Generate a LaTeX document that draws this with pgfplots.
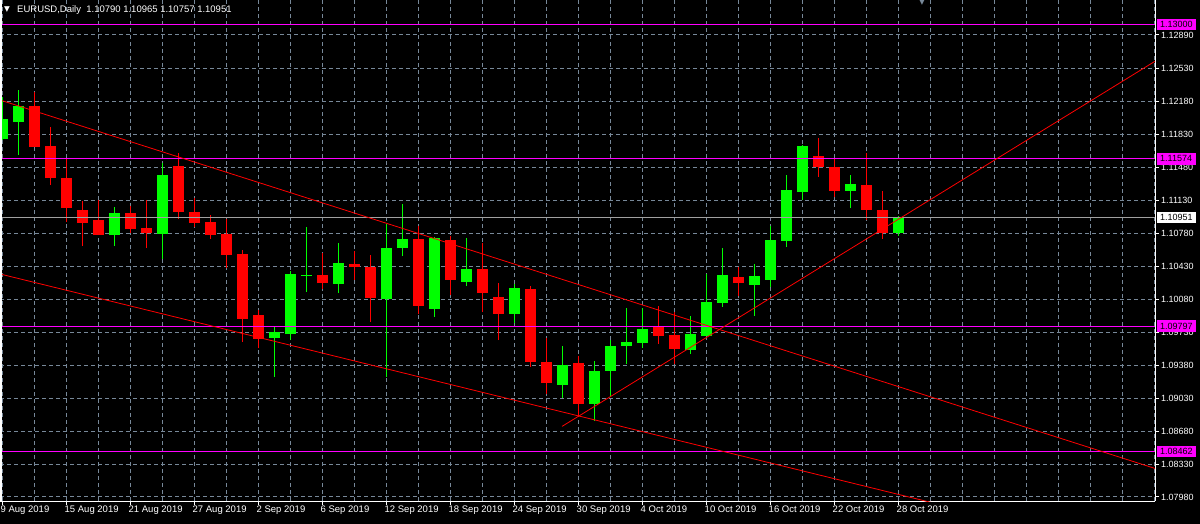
\documentclass[border=0pt]{standalone}
\usepackage{pgfplots}
\pgfplotsset{compat=1.18}
\usepackage{pgfplotstable}
\usepackage{fontspec}
\setmainfont{Liberation Sans}
\newfontfamily\dejavu{DejaVu Sans}
\definecolor{gridc}{RGB}{119,136,153}
\definecolor{bull}{RGB}{0,255,0}
\definecolor{bear}{RGB}{255,0,0}
\definecolor{mag}{RGB}{255,0,255}
\definecolor{bidc}{RGB}{160,160,160}

\pgfplotstableread{
i o h l c
0 1.11785 1.12231 1.11770 1.11997
1 1.11965 1.12305 1.11615 1.12135
7 1.10764 1.11062 1.10647 1.10998
10 1.10775 1.11530 1.10509 1.11402
17 1.09670 1.09787 1.09255 1.09734
18 1.09712 1.10382 1.09648 1.10350
19 1.10329 1.10849 1.10159 1.10339
21 1.10244 1.10679 1.10148 1.10467
24 1.10084 1.10881 1.09255 1.10626
25 1.10626 1.11094 1.10541 1.10722
27 1.09978 1.10743 1.09893 1.10733
29 1.10265 1.10733 1.10222 1.10403
32 1.09925 1.10244 1.09829 1.10201
35 1.09170 1.09585 1.09032 1.09383
37 1.08968 1.09425 1.08788 1.09319
38 1.09319 1.09648 1.09043 1.09585
39 1.09585 1.09989 1.09393 1.09627
40 1.09617 1.09989 1.09563 1.09765
43 1.09542 1.09904 1.09500 1.09712
44 1.09691 1.10350 1.09691 1.10052
45 1.10042 1.10626 1.09999 1.10339
47 1.10233 1.10456 1.09904 1.10329
48 1.10286 1.10860 1.10212 1.10711
49 1.10701 1.11402 1.10637 1.11243
50 1.11221 1.11721 1.11136 1.11710
53 1.11232 1.11402 1.11051 1.11306
56 1.10790 1.10965 1.10757 1.10951
}\bulltab

\pgfplotstableread{
i o h l c
2 1.12135 1.12284 1.11700 1.11700
3 1.11710 1.11912 1.11296 1.11370
4 1.11370 1.11572 1.10903 1.11051
5 1.11030 1.11126 1.10647 1.10892
6 1.10924 1.11136 1.10764 1.10764
8 1.10998 1.11073 1.10786 1.10828
9 1.10839 1.11136 1.10626 1.10786
11 1.11498 1.11636 1.10934 1.11009
12 1.11009 1.11158 1.10849 1.10892
13 1.10903 1.10977 1.10722 1.10764
14 1.10775 1.10934 1.10414 1.10552
15 1.10562 1.10605 1.09627 1.09872
16 1.09914 1.09967 1.09563 1.09659
20 1.10339 1.10573 1.10191 1.10254
22 1.10456 1.10594 1.10286 1.10424
23 1.10424 1.10552 1.09840 1.10095
26 1.10722 1.10860 1.09925 1.10010
28 1.10711 1.10754 1.10127 1.10286
30 1.10403 1.10679 1.09946 1.10148
31 1.10105 1.10254 1.09648 1.09925
33 1.10191 1.10222 1.09362 1.09415
34 1.09415 1.09670 1.09075 1.09191
36 1.09404 1.09478 1.08841 1.08968
41 1.09787 1.10010 1.09606 1.09691
42 1.09702 1.09946 1.09393 1.09553
46 1.10318 1.10424 1.10116 1.10254
51 1.11604 1.11795 1.11381 1.11487
52 1.11487 1.11572 1.11168 1.11232
54 1.11296 1.11636 1.10924 1.11030
55 1.11030 1.11232 1.10722 1.10786
}\beartab

\begin{document}
\begin{tikzpicture}[x=1pt,y=1pt]
\begin{axis}[
  at={(0pt,22pt)}, anchor=south west,
  width=1155pt, height=501pt, scale only axis,
  xmin=-0.15625, xmax=72.03, ymin=1.07937, ymax=1.13262,
  clip mode=individual,
  set layers,
  axis x line*=bottom, axis y line*=right,
  axis line style={white, line width=1pt, -},
  tick align=outside,
  major tick length=4pt, minor tick length=0pt,
  tick style={white, line width=1pt},
  xtick={0,4,...,56},
  xticklabels={9 Aug 2019,15 Aug 2019,21 Aug 2019,27 Aug 2019,2 Sep 2019,6 Sep 2019,12 Sep 2019,18 Sep 2019,24 Sep 2019,30 Sep 2019,4 Oct 2019,10 Oct 2019,16 Oct 2019,22 Oct 2019,28 Oct 2019},
  minor xtick={2,6,...,54,58,60,...,72},
  ytick={1.07980,1.08330,1.08680,1.09030,1.09380,1.09730,1.10080,1.10430,1.10780,1.11130,1.11480,1.11830,1.12180,1.12530,1.12890},
  xmajorgrids, xminorgrids, ymajorgrids,
  grid style={gridc, line width=1pt, dash pattern=on 4pt off 3pt},
  minor grid style={gridc, line width=1pt, dash pattern=on 4pt off 3pt},
  ticklabel style={white, font=\fontsize{9}{10}\selectfont},
  xticklabel style={anchor=north west, inner sep=0pt, xshift=-2pt, yshift=-1pt, font=\fontsize{9.5}{10}\selectfont},
  yticklabel style={anchor=west, inner sep=0pt, xshift=2pt},
  /pgf/number format/.cd, fixed, fixed zerofill, precision=5, assume math mode=true,
]
\begin{pgfonlayer}{axis background}
\fill[black] (rel axis cs:-0.01,-0.05) rectangle (rel axis cs:1.05,1.01);
\end{pgfonlayer}
% wicks
\addplot[draw=none, mark=none, error bars/.cd, y dir=plus, y explicit, error mark=none, error bar style={draw=bull, line width=1pt}]
  table[x=i, y=l, y error expr=\thisrow{h}-\thisrow{l}] {\bulltab};
\addplot[draw=none, mark=none, error bars/.cd, y dir=plus, y explicit, error mark=none, error bar style={draw=bear, line width=1pt}]
  table[x=i, y=l, y error expr=\thisrow{h}-\thisrow{l}] {\beartab};
% bodies
\addplot[draw=none, mark=none, error bars/.cd, y dir=plus, y explicit, error mark=none, error bar style={draw=bull, line width=11pt}]
  table[x=i, y=o, y error expr=\thisrow{c}-\thisrow{o}] {\bulltab};
\addplot[draw=none, mark=none, error bars/.cd, y dir=plus, y explicit, error mark=none, error bar style={draw=bear, line width=11pt}]
  table[x=i, y=c, y error expr=\thisrow{o}-\thisrow{c}] {\beartab};
% horizontal levels
\addplot[mag, line width=1pt] coordinates {(-0.15625,1.13000) (72.03,1.13000)};
\addplot[mag, line width=1pt] coordinates {(-0.15625,1.11574) (72.03,1.11574)};
\addplot[mag, line width=1pt] coordinates {(-0.15625,1.09797) (72.03,1.09797)};
\addplot[mag, line width=1pt] coordinates {(-0.15625,1.08462) (72.03,1.08462)};
\addplot[bidc, line width=1pt] coordinates {(-0.15625,1.10951) (72.03,1.10951)};
% trend lines
\addplot[bear, line width=0.8pt] coordinates {(-0.15625,1.12199) (72.03,1.08283)};
\addplot[bear, line width=0.8pt] coordinates {(-0.15625,1.10350) (72.03,1.07338)};
\addplot[bear, line width=0.8pt] coordinates {(34.97,1.08730) (72.03,1.12611)};
% price labels
\tikzset{plab/.style={anchor=west, text=black, inner xsep=3.5pt, inner ysep=0pt, minimum height=11.5pt, font=\fontsize{9}{10}\selectfont, xshift=1.5pt}}
\begin{pgfonlayer}{axis foreground}
\node[plab, fill=mag] at (axis cs:72.03,1.13000) {1.13000};
\node[plab, fill=mag] at (axis cs:72.03,1.11574) {1.11574};
\node[plab, fill=mag] at (axis cs:72.03,1.09797) {1.09797};
\node[plab, fill=mag] at (axis cs:72.03,1.08462) {1.08462};
\node[plab, fill=white] at (axis cs:72.03,1.10951) {1.10951};
\end{pgfonlayer}
\end{axis}
\draw[white, line width=1.5pt] (0.75,22) -- (0.75,523);
\node[anchor=west, inner sep=0pt, text=white, font=\dejavu\fontsize{7.5}{8}\selectfont] at (4,513) {▼};
\node[anchor=west, inner sep=0pt, text=white, font=\fontsize{9.5}{10}\selectfont] at (17,513) {EURUSD,Daily\ \ 1.10790 1.10965 1.10757 1.10951};
\node[anchor=north, inner sep=0pt, text=gridc, font=\dejavu\fontsize{7}{8}\selectfont] at (922,523) {▼};
\pgfresetboundingbox
\path (0,0) rectangle (1200,523);
\end{tikzpicture}
\end{document}
